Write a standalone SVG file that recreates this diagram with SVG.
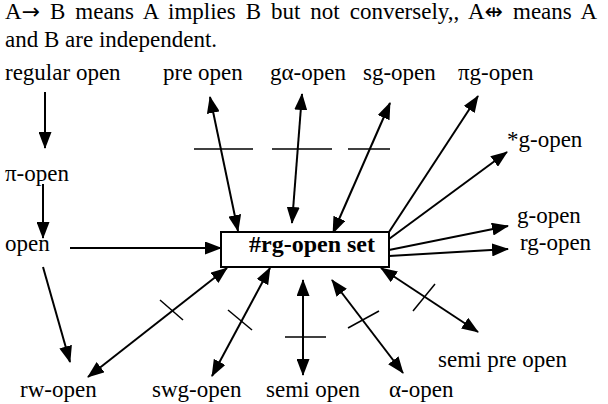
<svg xmlns="http://www.w3.org/2000/svg" width="608" height="404" viewBox="0 0 608 404">
  <style>
    text { font-family: "Liberation Serif", "DejaVu Serif", serif; font-size: 23px; fill: #000; }
    .bold { font-weight: bold; font-size: 24px; }
    .sym { font-family: "DejaVu Sans", sans-serif; font-size: 22px; }
    .edge { stroke: #000; stroke-width: 2; fill: none; }
    .tick { stroke: #000; stroke-width: 1.5; fill: none; }
    .box { fill: #fff; stroke: #000; stroke-width: 2; }
  </style>
  <defs>
    <marker id="head" markerUnits="userSpaceOnUse" markerWidth="17" markerHeight="13" refX="16" refY="6.5" orient="auto-start-reverse">
      <path d="M0,0 L17,6.5 L0,13 z" fill="#000"/>
    </marker>
  </defs>

  <!-- legend -->
  <g id="legend">
    <text x="5" y="19" word-spacing="4.2">A<tspan class="sym">→</tspan> B means A implies B but not conversely,, A<tspan class="sym">⇹</tspan> means A</text>
    <text x="5" y="47">and B are independent.</text>
  </g>

  <!-- connectors -->
  <g id="connectors">
    <!-- implications -->
    <line class="edge" x1="45" y1="92" x2="45" y2="148" marker-end="url(#head)"/>
    <line class="edge" x1="43" y1="184" x2="43" y2="238" marker-end="url(#head)"/>
    <line class="edge" x1="70" y1="248" x2="221" y2="248" marker-end="url(#head)"/>
    <line class="edge" x1="43" y1="267" x2="70" y2="362" marker-end="url(#head)"/>
    <line class="edge" x1="389" y1="232" x2="478" y2="96" marker-end="url(#head)"/>
    <line class="edge" x1="389" y1="239" x2="507" y2="152" marker-end="url(#head)"/>
    <line class="edge" x1="389" y1="250" x2="508" y2="226" marker-end="url(#head)"/>
    <line class="edge" x1="389" y1="256" x2="508" y2="249" marker-end="url(#head)"/>

    <!-- independences -->
    <line class="edge" x1="238" y1="231" x2="210" y2="97" marker-start="url(#head)" marker-end="url(#head)"/>
    <line class="edge" x1="292" y1="223" x2="302" y2="94" marker-start="url(#head)" marker-end="url(#head)"/>
    <line class="edge" x1="333" y1="233" x2="390" y2="103" marker-start="url(#head)" marker-end="url(#head)"/>
    <line class="edge" x1="227" y1="268" x2="88" y2="377" marker-start="url(#head)" marker-end="url(#head)"/>
    <line class="edge" x1="270" y1="268" x2="212" y2="376" marker-start="url(#head)" marker-end="url(#head)"/>
    <line class="edge" x1="303" y1="280" x2="303" y2="375" marker-start="url(#head)" marker-end="url(#head)"/>
    <line class="edge" x1="332" y1="280" x2="403" y2="373" marker-start="url(#head)" marker-end="url(#head)"/>
    <line class="edge" x1="381" y1="268" x2="478" y2="332" marker-start="url(#head)" marker-end="url(#head)"/>

    <!-- strokes marking independence -->
    <line class="tick" x1="194" y1="149" x2="253" y2="149"/>
    <line class="tick" x1="272" y1="149" x2="332" y2="149"/>
    <line class="tick" x1="348" y1="149" x2="390" y2="149"/>
    <line class="tick" x1="160" y1="300" x2="183" y2="320"/>
    <line class="tick" x1="228" y1="310" x2="252" y2="330"/>
    <line class="tick" x1="285" y1="337" x2="326" y2="337"/>
    <line class="tick" x1="348" y1="328" x2="379" y2="311"/>
    <line class="tick" x1="413" y1="311" x2="435" y2="284"/>
  </g>

  <!-- nodes -->
  <g id="rg-open-set">
    <rect class="box" x="221" y="232" width="168" height="35"/>
    <text class="bold" x="249" y="252">#rg-open set</text>
  </g>
  <g id="regular-open"><text x="5" y="80">regular open</text></g>
  <g id="pre-open"><text x="163" y="80">pre open</text></g>
  <g id="g-alpha-open"><text x="270" y="80">gα-open</text></g>
  <g id="sg-open"><text x="363" y="80">sg-open</text></g>
  <g id="pi-g-open"><text x="458" y="80">πg-open</text></g>
  <g id="star-g-open"><text x="507" y="147">*g-open</text></g>
  <g id="pi-open"><text x="5" y="181">π-open</text></g>
  <g id="open"><text x="5" y="251">open</text></g>
  <g id="g-open"><text x="517" y="223">g-open</text></g>
  <g id="rg-open"><text x="520" y="250">rg-open</text></g>
  <g id="semi-pre-open"><text x="438" y="367">semi pre open</text></g>
  <g id="rw-open"><text x="20" y="397">rw-open</text></g>
  <g id="swg-open"><text x="152" y="397">swg-open</text></g>
  <g id="semi-open"><text x="266" y="397">semi open</text></g>
  <g id="alpha-open"><text x="389" y="397">α-open</text></g>
</svg>
